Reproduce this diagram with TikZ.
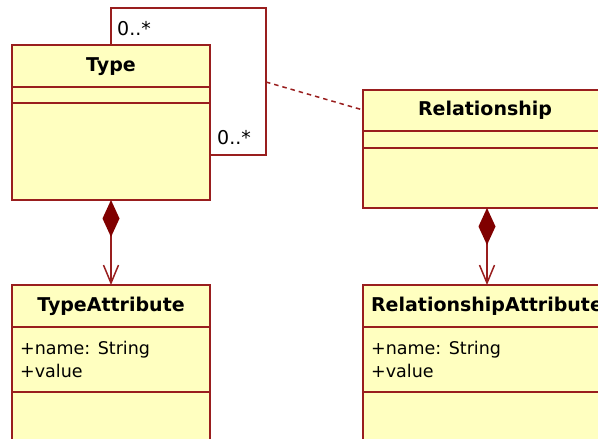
\documentclass[tikz,border=0pt]{standalone}
\usepackage{fontspec}
\setmainfont{DejaVu Sans}
\usetikzlibrary{arrows.meta}
\definecolor{umlline}{RGB}{153,30,30}
\definecolor{umlfill}{RGB}{255,255,192}
\definecolor{umldiamond}{RGB}{128,0,0}
\tikzset{
  classbox/.style={draw=umlline, fill=umlfill, line width=1.5pt, anchor=north west,
    inner sep=0pt, outer sep=0pt},
  divider/.style={draw=umlline, line width=1.5pt},
  headtext/.style={font=\fontsize{19}{22}\selectfont\bfseries, inner sep=0pt},
  membertext/.style={font=\fontsize{17.5}{20}\selectfont, inner sep=0pt, anchor=base west},
  multtext/.style={font=\fontsize{19}{22}\selectfont, inner sep=0pt, anchor=base west},
  assoc/.style={draw=umlline, line width=1.5pt},
  assocclass/.style={draw=umlline, line width=1.5pt, dash pattern=on 4.5pt off 4pt},
  composition/.style={draw=umlline, line width=1.5pt,
    {Diamond[length=37pt,width=17pt,fill=umldiamond,color=umldiamond]}-{Straight Barb[length=18pt,width=15pt]}}
}
\begin{document}
\begin{tikzpicture}[x=1pt,y=-1pt]
\useasboundingbox (0,0) rectangle (598,439);
\clip (0,0) rectangle (598,439);
\fill[white] (0,0) rectangle (598,439);

% class Type
\node[classbox, minimum width=198pt, minimum height=155pt] (type) at (12,45) {};
\draw[divider] (type.west |- 0,87) -- (type.east |- 0,87);
\draw[divider] (type.west |- 0,103) -- (type.east |- 0,103);
\node[headtext] (typehead) at (111,67) {Type};

% class Relationship
\node[classbox, minimum width=244pt, minimum height=118pt] (rel) at (363,90) {};
\draw[divider] (rel.west |- 0,131) -- (rel.east |- 0,131);
\draw[divider] (rel.west |- 0,148) -- (rel.east |- 0,148);
\node[headtext] (relhead) at (485,110) {Relationship};

% class TypeAttribute
\node[classbox, minimum width=198pt, minimum height=180pt] (tattr) at (12,285) {};
\draw[divider] (tattr.west |- 0,327) -- (tattr.east |- 0,327);
\draw[divider] (tattr.west |- 0,392) -- (tattr.east |- 0,392);
\node[headtext] (tattrhead) at (111,306) {TypeAttribute};
\node[membertext] (tattrname) at (20,354) {+name: String};
\node[membertext] (tattrvalue) at (20,377) {+value};

% class RelationshipAttribute
\node[classbox, minimum width=244pt, minimum height=180pt] (rattr) at (363,285) {};
\draw[divider] (rattr.west |- 0,327) -- (rattr.east |- 0,327);
\draw[divider] (rattr.west |- 0,392) -- (rattr.east |- 0,392);
\node[headtext] (rattrhead) at (487,306) {RelationshipAttribute};
\node[membertext] (rattrname) at (371,354) {+name: String};
\node[membertext] (rattrvalue) at (371,377) {+value};

% reflexive association on Type
\coordinate (loopTL) at (type.north |- 0,8);
\coordinate (loopTR) at (266,8);
\coordinate (loopBR) at (266,155);
\coordinate (loopEnd) at (type.east |- 0,155);
\coordinate (loopMid) at (266,82);
\draw[assoc] (type.north) -- (loopTL) -- (loopTR) -- (loopBR) -- (loopEnd);
\node[multtext] (multA) at (117,35) {0..*};
\node[multtext] (multB) at (217,144) {0..*};

% association class link
\draw[assocclass] (loopMid) -- (relhead.west -| rel.west);

% compositions
\draw[composition] (type.south) -- (tattr.north);
\draw[composition] (rel.south -| 487,0) -- (rattr.north -| 487,0);
\end{tikzpicture}
\end{document}
